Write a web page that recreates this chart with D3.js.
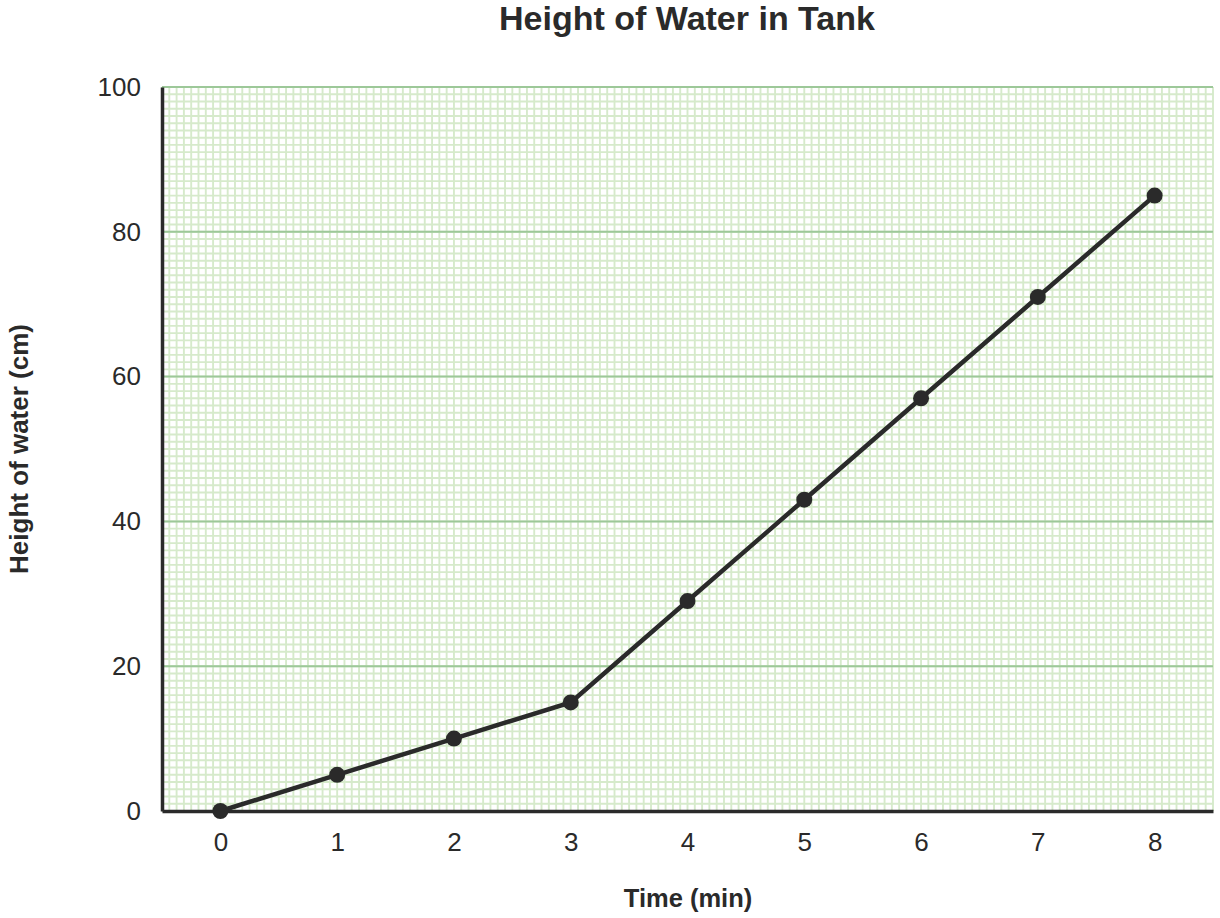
<!DOCTYPE html>
<html><head><meta charset="utf-8">
<script src="https://cdn.jsdelivr.net/npm/d3@7/dist/d3.min.js"></script>
<style>body{margin:0;background:#fff;} text{font-family:"Liberation Sans",Arial,sans-serif;fill:#2a2a2a;}</style>
</head><body>
<svg id="c" width="1220" height="918"></svg>
<script>
const times = [0,1,2,3,4,5,6,7,8];
const heights = [0,5,10,15,29,43,57,71,85];
const yTicks = [0,20,40,60,80,100];
const xTicks = [0,1,2,3,4,5,6,7,8];

const svg = d3.select("#c");
const L=162, R=1213, T=87, B=811;
const x = d3.scaleLinear().domain([-0.5,8.5]).range([L,R]);
const y = d3.scaleLinear().domain([0,100]).range([B,T]);

const g = svg.append("g");
// minor grid
const vx = d3.range(-8, 8*16+9).map(i=>i/16);
g.selectAll("line.vm").data(vx).join("line")
  .attr("x1",d=>x(d)).attr("x2",d=>x(d)).attr("y1",T).attr("y2",B)
  .attr("stroke","#d6eacb").attr("stroke-width",1.9);
const hy = d3.range(0,101);
g.selectAll("line.hm").data(hy).join("line")
  .attr("x1",L).attr("x2",R).attr("y1",d=>y(d)).attr("y2",d=>y(d))
  .attr("stroke","#d6eacb").attr("stroke-width",1.9);
// major grid
g.selectAll("line.hM").data(yTicks.filter(d=>d>0)).join("line")
  .attr("x1",L).attr("x2",R).attr("y1",d=>y(d)).attr("y2",d=>y(d))
  .attr("stroke","#9dc899").attr("stroke-width",2);

// axes
const yAxis = d3.axisLeft(y).tickValues(yTicks).tickSize(0).tickPadding(21);
const ya = svg.append("g").attr("transform",`translate(${L},0)`).call(yAxis);
ya.select(".domain").attr("stroke","#2a2a2a").attr("stroke-width",3.5);
ya.selectAll("text").attr("font-size",26).attr("fill","#2a2a2a").attr("font-family","Liberation Sans, Arial, sans-serif");

const xAxis = d3.axisBottom(x).tickValues(xTicks).tickSize(0).tickPadding(22);
const xa = svg.append("g").attr("transform",`translate(0,${B})`).call(xAxis);
xa.select(".domain").attr("stroke","#2a2a2a").attr("stroke-width",3.5);
xa.selectAll("text").attr("font-size",26).attr("fill","#2a2a2a").attr("font-family","Liberation Sans, Arial, sans-serif");

// line
const pts = times.map((t,i)=>[t,heights[i]]);
svg.append("path").datum(pts)
  .attr("d", d3.line().x(d=>x(d[0])).y(d=>y(d[1])))
  .attr("fill","none").attr("stroke","#2a2a2a").attr("stroke-width",4.5);
svg.selectAll("circle.p").data(pts).join("circle")
  .attr("cx",d=>x(d[0])).attr("cy",d=>y(d[1])).attr("r",8).attr("fill","#2a2a2a");

// titles
svg.append("text").attr("x",687).attr("y",30).attr("text-anchor","middle")
  .attr("font-size",34).attr("font-weight","bold").text("Height of Water in Tank");
svg.append("text").attr("x",688).attr("y",907).attr("text-anchor","middle")
  .attr("font-size",25.5).attr("font-weight","bold").text("Time (min)");
svg.append("text").attr("transform","translate(28,449) rotate(-90)").attr("text-anchor","middle")
  .attr("font-size",26).attr("font-weight","bold").text("Height of water (cm)");
</script>
</body></html>
